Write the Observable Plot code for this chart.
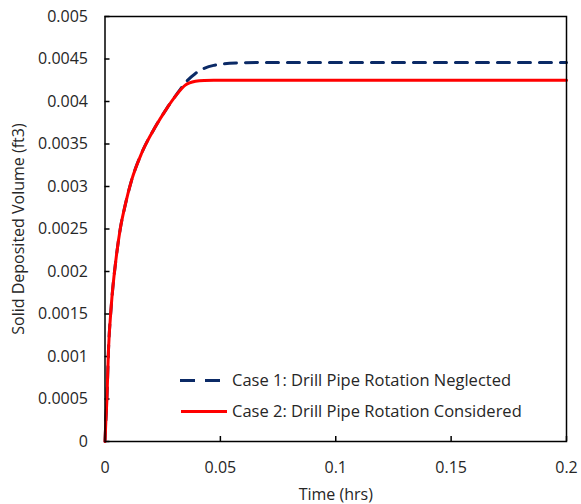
<!DOCTYPE html>
<html><head><meta charset="utf-8">
<script src="https://cdn.jsdelivr.net/npm/d3@7"></script>
<script src="https://cdn.jsdelivr.net/npm/@observablehq/plot@0.6"></script>
<style>
html,body{margin:0;padding:0;background:#fff;}
#chart{position:relative;width:581px;height:504px;}
</style></head><body><div id="chart"></div>
<script>
// ---- data ----
const timeHrs      = [0, 0.0004, 0.0008, 0.0015, 0.0027, 0.0047, 0.0066, 0.0087, 0.0116, 0.0159, 0.0217, 0.0268, 0.0308, 0.0348, 0.0392, 0.0430, 0.0471, 0.0568, 0.07, 0.1, 0.15, 0.2];
const case1Volume  = [0, 0.00026, 0.00048, 0.00107, 0.00159, 0.00213, 0.0025, 0.002775, 0.00308, 0.003394, 0.003696, 0.00392, 0.004075, 0.00422, 0.00433, 0.00439, 0.004425, 0.004452, 0.00446, 0.00446, 0.00446, 0.00446];
const case2Volume  = [0, 0.00026, 0.00048, 0.00107, 0.00159, 0.00213, 0.0025, 0.002775, 0.00308, 0.003394, 0.003696, 0.00392, 0.004072, 0.004192, 0.004238, 0.004248, 0.00425, 0.00425, 0.00425, 0.00425, 0.00425, 0.00425];
const seriesNames  = ["Case 1: Drill Pipe Rotation Neglected", "Case 2: Drill Pipe Rotation Considered"];
const xTicks = [0, 0.05, 0.1, 0.15, 0.2];
const yTicks = [0, 0.0005, 0.001, 0.0015, 0.002, 0.0025, 0.003, 0.0035, 0.004, 0.0045, 0.005];
const xLabel = "Time (hrs)";
const yLabel = "Solid Deposited Volume (ft3)";

// ---- layout / style ----
const W = 581, H = 504, mL = 104.5, mR = 15, mT = 16, mB = 63;
const plotW = W - mL - mR, plotH = H - mT - mB;
const colors = ["#0B2A66", "#FF0000"];
const font = "'Open Sans', sans-serif";
const textColor = "#262626";

const rows1 = timeHrs.map((t, i) => ({t, v: case1Volume[i]}));
const rows2 = timeHrs.map((t, i) => ({t, v: case2Volume[i]}));

const plot = Plot.plot({
  width: W, height: H,
  marginLeft: mL, marginRight: mR, marginTop: mT, marginBottom: mB,
  style: {fontFamily: font, fontSize: "16px", color: textColor, background: "white", overflow: "visible"},
  x: {domain: [0, 0.2]},
  y: {domain: [0, 0.005]},
  marks: [
    Plot.axisX(xTicks, {tickSize: 0, tickPadding: 20, tickFormat: d => String(d), label: xLabel, labelAnchor: "center", labelOffset: 58, labelArrow: "none", fontSize: 16}),
    Plot.axisY(yTicks, {tickSize: 0, tickPadding: 17, tickFormat: d => String(d), label: yLabel, labelAnchor: "center", labelOffset: 92, labelArrow: "none", fontSize: 16}),
    Plot.tickY(yTicks, {y: d => d, insetRight: plotW - 5, stroke: "black", strokeWidth: 1.5}),
    Plot.tickX(xTicks, {x: d => d, insetTop: plotH - 5, stroke: "black", strokeWidth: 1.5}),
    Plot.line(rows1, {x: "t", y: "v", curve: "monotone-x", stroke: colors[0], strokeWidth: 3, strokeDasharray: "12,9"}),
    Plot.line(rows2, {x: "t", y: "v", curve: "monotone-x", stroke: colors[1], strokeWidth: 3}),
    Plot.frame({stroke: "black", strokeWidth: 1.5})
  ]
});

document.getElementById("chart").appendChild(plot);

// ---- legend (inside plot, lower part) ----
const svg = d3.select(plot);
const legendRows = [{y: 380.5, x1: 180, x2: 226}, {y: 411.5, x1: 181, x2: 227}];
const lg = svg.append("g").attr("font-family", font).attr("font-size", 16.5).attr("fill", textColor).attr("text-anchor", "start");
seriesNames.forEach((name, i) => {
  const r = legendRows[i];
  lg.append("line").attr("x1", r.x1).attr("x2", r.x2).attr("y1", r.y).attr("y2", r.y)
    .attr("stroke", colors[i]).attr("stroke-width", 3)
    .attr("stroke-dasharray", i === 0 ? "15,10" : null);
  lg.append("text").attr("x", 232).attr("y", r.y).attr("dy", "0.35em").text(name);
});
</script></body></html>
